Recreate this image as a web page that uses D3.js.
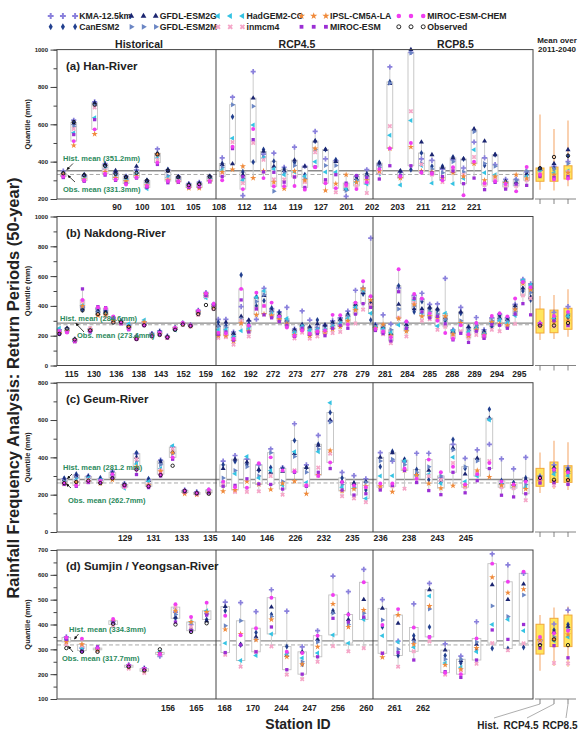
<!DOCTYPE html>
<html>
<head>
<meta charset="utf-8">
<script src="https://cdn.jsdelivr.net/npm/d3@7"></script>
<style>
  body { margin: 0; background: #fff; }
  svg { font-family: "Liberation Sans", Arial, sans-serif; }
</style>
</head>
<body>
<svg id="chart" width="580" height="735"></svg>
<script>
//
// ***********************************************************************************
//                      DATA
// ***********************************************************************************
//

// model order in every row: KMA, CanESM2, GFDL-ESM2G, GFDL-ESM2M, HadGEM2-CC, inmcm4, IPSL, MIROC-ESM, MIROC-ESM-CHEM
const modelNames = ["KMA-12.5km", "CanESM2", "GFDL-ESM2G", "GFDL-ESM2M", "HadGEM2-CC",
                    "inmcm4", "IPSL-CM5A-LA", "MIROC-ESM", "MIROC-ESM-CHEM"];
const periodNames = ["Historical", "RCP4.5", "RCP8.5"];
const meanNames = ["Hist.", "RCP4.5", "RCP8.5"];

// (a) Han-River
const hanTicks = ["90", "100", "101", "105", "108", "112", "114", "119", "127", "201", "202", "203", "211", "212", "221"];
const hanHistMean = 351.2;
const hanObsMean = 331.3;
const hanHist = [
    [350,338,335,330,325,320,330,315,322], [622,610,605,590,555,575,487,545,510],
    [325,330,328,318,310,300,305,295,300], [720,712,715,700,635,690,548,625,573],
    [390,382,385,370,360,355,345,328,335], [340,332,352,325,318,310,312,300,305],
    [322,318,315,305,300,290,295,283,278], [355,345,375,338,330,320,322,312,316],
    [298,300,295,285,255,268,272,262,270], [468,445,440,430,420,410,438,385,395],
    [355,358,350,325,315,305,300,287,296], [320,318,316,305,300,296,292,290,295],
    [282,276,280,270,265,262,258,262,268], [290,282,285,275,268,262,258,265,272],
    [322,320,318,310,300,298,295,292,296]
];
const hanObs = [338,612,328,705,378,335,318,340,298,440,352,318,274,280,320];
const hanRcp45 = [
    [420,390,385,370,355,340,345,320,300], [745,640,388,705,525,505,358,470,480],
    [218,345,330,310,300,285,375,320,253], [882,398,740,697,596,500,312,518,575],
    [440,465,455,425,420,410,350,345,312], [446,402,375,242,360,305,290,343,268],
    [370,360,352,340,330,305,255,290,268], [478,395,408,380,345,320,350,318,270],
    [375,330,375,310,322,290,300,262,250], [562,510,510,465,400,450,470,372,370],
    [415,465,465,380,345,290,246,303,285], [405,410,400,380,345,236,282,330,258],
    [214,262,255,245,255,270,330,285,275], [322,315,310,300,290,270,290,325,253],
    [357,335,330,320,280,232,300,315,290]
];
const hanRcp85 = [
    [380,395,392,370,335,340,350,307,360], [907,827,818,820,541,590,470,378,470],
    [345,348,350,330,275,320,312,325,320], [985,357,1000,982,621,670,479,378,500],
    [415,446,505,390,380,385,350,345,340], [407,375,437,360,285,330,345,340,335],
    [360,375,370,340,305,291,310,320,300], [410,425,420,400,282,360,340,350,370],
    [366,414,415,345,310,330,321,282,220], [505,570,575,560,464,425,389,312,400],
    [420,380,510,390,340,275,300,250,285], [384,437,437,375,330,310,320,289,295],
    [305,290,295,285,280,265,285,253,280], [305,285,290,300,275,270,330,280,241],
    [345,330,335,350,320,300,310,273,371]
];
// mean panel: [low, q1, q3, high] per period, then model means and observed
const hanMeanBox = [[250,295,366,652], [246,295,371,575], [268,307,378,621]];
const hanMeanPts = [
    [355,362,360,352,345,335,330,320,330],
    [375,365,390,360,340,320,330,315,305],
    [400,430,464,390,350,345,340,320,310]
];
const hanMeanObs = [365, 425, 432];

// (b) Nakdong-River
const nakTicks = ["115", "130", "136", "138", "143", "152", "159", "162", "192", "272", "273", "277", "278", "279",
                  "281", "284", "285", "288", "289", "294", "295"];
const nakHistMean = 284.6;
const nakObsMean = 273.4;
const nakHist = [
    [240,215,220,230,250,225,218,210,232], [250,240,245,238,235,228,232,225,222],
    [178,172,170,168,165,162,168,160,165], [395,375,385,390,405,430,400,514,440],
    [245,235,240,230,228,250,238,226,232], [380,360,370,355,345,340,335,395,390],
    [370,355,365,340,345,330,340,388,385], [320,300,305,310,315,295,300,325,330],
    [300,292,295,285,290,282,288,280,285], [270,260,265,255,280,250,258,240,245],
    [198,190,192,185,190,180,185,175,178], [290,280,285,275,305,278,290,268,270],
    [215,205,210,200,205,198,202,195,200], [232,222,228,218,215,210,212,208,220],
    [198,192,195,190,188,186,188,185,190], [255,245,250,242,238,250,246,245,252],
    [285,280,282,278,275,272,280,283,285], [272,268,270,265,268,262,266,268,270],
    [370,360,365,350,345,340,355,362,368], [490,470,480,460,455,465,478,470,485],
    [410,395,400,385,390,380,395,405,415]
];
const nakObs = [212,248,175,370,236,345,350,288,290,260,178,270,196,205,190,240,275,265,345,406,380];
const nakRcp45 = [
    [310,290,270,262,240,185,200,210,220], [310,268,290,255,240,190,200,225,215],
    [225,205,215,195,190,140,165,170,180], [395,608,330,310,234,300,283,440,514],
    [300,280,305,260,245,195,230,225,268], [310,400,460,430,458,380,340,380,489],
    [518,435,470,475,500,400,345,340,400], [380,385,370,360,345,330,335,320,422],
    [360,355,340,325,320,300,310,295,330], [390,290,305,300,315,265,280,270,255],
    [245,230,240,225,220,182,205,195,200], [366,270,275,265,262,220,240,250,235],
    [305,250,260,240,235,180,200,210,215], [255,305,280,250,240,195,220,215,230],
    [270,265,272,245,240,215,225,200,235], [300,285,290,270,260,218,245,250,340],
    [320,300,310,290,280,225,260,270,338], [365,345,340,330,315,290,300,250,275],
    [505,395,410,380,390,282,370,345,422], [520,480,490,500,505,375,515,415,565],
    [855,305,420,395,350,405,440,390,465]
];
const nakRcp85 = [
    [275,270,265,260,255,240,250,235,245], [340,250,260,270,245,210,275,215,230],
    [278,210,215,240,220,150,200,165,190], [520,535,410,380,272,320,315,495,646],
    [290,270,275,255,245,195,230,250,295], [470,360,380,400,440,420,410,450,480],
    [485,430,380,445,350,300,330,360,450], [410,380,390,360,340,310,330,320,350],
    [413,370,380,345,265,240,320,330,300], [585,300,320,310,350,260,330,280,218],
    [240,225,230,215,235,195,210,172,180], [390,350,360,300,280,230,285,216,270],
    [255,240,260,235,225,185,200,155,210], [322,280,260,270,250,205,240,230,285],
    [240,230,225,215,210,188,205,182,200], [320,260,290,300,280,240,290,275,332],
    [345,335,320,310,300,230,280,270,350], [320,300,310,295,285,260,270,250,330],
    [410,380,400,360,335,280,375,345,450], [578,500,520,565,572,470,550,415,560],
    [548,440,460,490,540,450,510,340,525]
];
const nakMeanBox = [[171,218,379,466], [178,220,372,473], [193,243,384,511]];
const nakMeanPts = [
    [285,270,275,268,272,262,270,280,282],
    [357,300,320,330,315,262,290,300,332],
    [395,320,340,345,330,265,300,270,360]
];
const nakMeanObs = [268, 268, 285];

// (c) Geum-River
const geumTicks = ["129", "131", "133", "135", "140", "146", "226", "232", "235", "236", "238", "243", "245"];
const geumHistMean = 281.2;
const geumObsMean = 262.7;
const geumHist = [
    [285,288,280,270,265,260,258,255,262], [305,310,300,290,280,270,265,245,250],
    [300,298,295,285,290,280,270,265,270], [285,290,282,275,278,270,260,265,275],
    [325,318,312,300,305,292,280,290,310], [260,255,250,245,235,240,248,252,245],
    [420,425,400,380,365,390,350,308,335], [280,285,275,260,270,255,250,238,245],
    [385,380,375,360,340,330,325,300,310], [455,440,430,420,462,445,425,390,400],
    [225,222,220,215,218,212,205,215,222], [215,212,210,208,205,202,200,205,210],
    [225,218,215,212,220,215,210,210,228]
];
const geumObs = [262,268,275,262,288,252,335,245,305,355,220,208,205];
const geumRcp45 = [
    [380,360,340,290,265,255,218,245,270], [410,378,390,330,312,215,225,250,240],
    [390,360,375,350,405,215,270,285,237], [360,330,335,300,290,218,255,258,368],
    [445,345,320,425,330,300,228,255,400], [345,340,325,270,250,200,260,230,330],
    [580,490,420,405,430,330,272,320,325], [360,345,345,320,265,250,205,245,250],
    [518,470,465,445,430,345,305,320,300], [595,640,600,590,693,420,437,340,373],
    [320,290,270,255,240,192,220,225,268], [302,262,260,240,235,180,230,198,250],
    [285,225,270,265,180,160,245,205,240]
];
const geumRcp85 = [
    [425,350,400,380,300,240,245,225,260], [380,432,425,390,302,245,215,250,260],
    [375,390,385,360,380,232,330,330,340], [422,335,310,320,300,290,305,265,285],
    [422,280,330,350,310,300,260,222,388], [290,265,280,300,260,280,235,200,320],
    [470,495,450,440,400,370,248,320,350], [395,340,310,350,270,240,250,210,255],
    [440,390,395,380,300,320,330,275,310], [470,658,610,605,600,380,295,340,370],
    [392,275,265,260,255,240,250,197,270], [338,265,255,245,240,235,250,188,255],
    [400,290,280,255,240,170,230,205,270]
];
const geumMeanBox = [[209,245,341,426], [230,266,375,489], [225,266,355,481]];
const geumMeanPts = [
    [300,292,290,282,278,270,272,262,285],
    [360,330,345,320,310,250,270,265,335],
    [345,335,330,315,300,262,280,255,320]
];
const geumMeanObs = [290, 280, 278];

// (d) Sumjin / Yeongsan-River
const sumTicks = ["156", "165", "168", "170", "244", "247", "256", "260", "261", "262"];
const sumHistMean = 334.3;
const sumObsMean = 317.7;
const sumHist = [
    [350,340,345,335,338,320,330,340,348], [305,300,295,310,305,315,320,292,343],
    [305,300,302,298,300,295,298,310,305], [412,405,408,400,410,395,415,410,422],
    [238,232,235,230,228,222,230,233,236], [225,220,222,215,212,205,215,218,222],
    [272,285,282,288,290,280,285,283,280], [450,425,430,440,465,470,455,410,482],
    [400,380,385,375,410,390,410,375,430], [445,420,415,440,455,445,450,438,488]
];
const sumObs = [305,290,290,403,230,215,300,400,370,405];
const sumRcp45 = [
    [490,455,472,395,325,278,380,287,435], [488,318,320,415,255,230,362,318,357],
    [452,368,350,340,275,290,338,290,385], [540,440,470,432,362,312,420,390,508],
    [454,311,275,285,280,198,270,218,290], [310,240,290,250,265,180,240,200,285],
    [375,335,340,330,285,250,310,270,355], [595,455,450,445,358,313,483,425,519],
    [532,440,420,400,325,292,390,410,440], [622,425,500,445,420,305,458,430,570]
];
const sumRcp85 = [
    [500,390,465,418,355,285,268,284,398], [333,275,405,300,330,230,438,287,462],
    [483,355,340,330,308,292,320,257,388], [566,390,540,462,515,332,474,350,350],
    [322,275,297,260,245,198,237,210,206], [273,245,255,260,228,215,220,187,200],
    [411,300,320,330,290,242,305,257,344], [684,304,560,475,400,325,590,378,645],
    [640,303,500,432,420,296,528,340,572], [606,308,563,519,375,324,542,400,613]
];
const sumMeanBox = [[214,281,401,438], [233,311,425,468], [230,311,438,472]];
const sumMeanPts = [
    [335,330,325,335,340,330,338,305,350],
    [402,378,370,350,335,245,340,315,365],
    [458,400,392,380,350,243,360,266,375]
];
const sumMeanObs = [317, 340, 317];

//
// ***********************************************************************************
//                      LAYOUT AND STYLE
// ***********************************************************************************
//

const svg = d3.select("#chart");
const frameX = [57, 216, 373, 533];     // left edge, two period dividers, right edge
const meanRange = [533, 575];

const modelStyle = [
    { sym: d3.symbolCross,    size: 24, rot: 0,   fill: "#8a80dc" },
    { sym: d3.symbolDiamond,  size: 18, rot: 0,   fill: "#22408f" },
    { sym: d3.symbolTriangle, size: 18, rot: 0,   fill: "#1b2570" },
    { sym: d3.symbolTriangle, size: 18, rot: 90,  fill: "#6b86c4" },
    { sym: d3.symbolTriangle, size: 18, rot: -90, fill: "#35c3e3" },
    { sym: d3.symbolCross,    size: 22, rot: 45,  fill: "#f5a6c8" },
    { sym: d3.symbolStar,     size: 20, rot: 0,   fill: "#f08a3a" },
    { sym: d3.symbolSquare,   size: 18, rot: 0,   fill: "#9b2fd4" },
    { sym: d3.symbolCircle,   size: 20, rot: 0,   fill: "#f03df0" }
];
const POINT_SCALE = 0.6;

const panels = [
    { title: "(a) Han-River", top: 49.6, bottom: 199, domain: [200, 1000], major: 200, minor: 100,
      pad: 0.6, labelPad: 2.33, labelGap: 4.5, ticks: hanTicks,
      rows: [hanHist, hanRcp45, hanRcp85], obs: hanObs, histMean: hanHistMean, obsMean: hanObsMean,
      meanBox: hanMeanBox, meanPts: hanMeanPts, meanObs: hanMeanObs, unit: "mm",
      ann: { hx: 63, hy: 161, ha: [73, 163.5, 67, 169.5], ox: 63, oy: 192, oa: [75, 182, 68, 175.5] } },
    { title: "(b) Nakdong-River", top: 216.5, bottom: 365.5, domain: [0, 1000], major: 200, minor: 100,
      pad: 0.3, labelPad: 0.63, labelGap: 5, ticks: nakTicks,
      rows: [nakHist, nakRcp45, nakRcp85], obs: nakObs, histMean: nakHistMean, obsMean: nakObsMean,
      meanBox: nakMeanBox, meanPts: nakMeanPts, meanObs: nakMeanObs, unit: "mm",
      ann: { hx: 60, hy: 320.5, ha: null, ox: 77, oy: 337.5, oa: [84, 332, 76, 323.5] } },
    { title: "(c) Geum-River", top: 382.7, bottom: 532, domain: [0, 800], major: 200, minor: 100,
      pad: 0.6, labelPad: 2.38, labelGap: 3, ticks: geumTicks,
      rows: [geumHist, geumRcp45, geumRcp85], obs: geumObs, histMean: geumHistMean, obsMean: geumObsMean,
      meanBox: geumMeanBox, meanPts: geumMeanPts, meanObs: geumMeanObs, unit: " mm",
      ann: { hx: 63, hy: 469.5, ha: [72, 474, 67.5, 478.5], ox: 68, oy: 503, oa: [71, 488, 66.5, 484] } },
    { title: "(d) Sumjin / Yeongsan-River", top: 550, bottom: 699, domain: [100, 700], major: 100, minor: 50,
      pad: 0.6, labelPad: 3.9, labelGap: 6, ticks: sumTicks,
      rows: [sumHist, sumRcp45, sumRcp85], obs: sumObs, histMean: sumHistMean, obsMean: sumObsMean,
      meanBox: sumMeanBox, meanPts: sumMeanPts, meanObs: sumMeanObs, unit: "mm",
      ann: { hx: 69, hy: 632, ha: [78.5, 634, 74.5, 639], ox: 62, oy: 661, oa: [73, 652, 68.5, 646.5] } }
];

// arrow head for the mean annotations
svg.append("defs").append("marker")
    .attr("id", "arrow").attr("viewBox", "0 0 6 6").attr("refX", 5).attr("refY", 3)
    .attr("markerWidth", 4).attr("markerHeight", 4).attr("orient", "auto")
    .append("path").attr("d", "M0,0L6,3L0,6Z").attr("fill", "#111");

//
// ***********************************************************************************
//                      HELPER FUNCTIONS
// ***********************************************************************************
//

function drawMarker(g, i, x, y, scale = POINT_SCALE) {
    const s = modelStyle[i];
    g.append("path")
        .attr("d", d3.symbol(s.sym, s.size * scale)())
        .attr("transform", `translate(${x},${y}) rotate(${s.rot})`)
        .attr("fill", s.fill);
}

function drawObs(g, x, y, r = 1.7) {
    g.append("circle")
        .attr("cx", x).attr("cy", y).attr("r", r)
        .attr("fill", "none").attr("stroke", "#111").attr("stroke-width", 0.9);
}

function drawColumn(g, vals, obs, cx, y, bw) {
    const s = vals.slice().sort(d3.ascending);
    const q1 = d3.quantile(s, 0.125), q3 = d3.quantile(s, 0.875);

    g.append("line")
        .attr("x1", cx).attr("x2", cx)
        .attr("y1", y(d3.max(s))).attr("y2", y(d3.min(s)))
        .attr("stroke", "#c6c6c6").attr("stroke-width", 0.9);
    g.append("rect")
        .attr("x", cx - bw / 2).attr("width", bw)
        .attr("y", y(q3)).attr("height", y(q1) - y(q3))
        .attr("fill", "#fff").attr("stroke", "#c2c2c2").attr("stroke-width", 0.9);

    vals.forEach((v, i) => drawMarker(g, i, cx, y(v)));
    if (obs != null) drawObs(g, cx, y(obs));
}

function drawMeanColumn(g, box, pts, obs, cx, y) {
    g.append("line")
        .attr("x1", cx).attr("x2", cx)
        .attr("y1", y(box[3])).attr("y2", y(box[0]))
        .attr("stroke", "#f6b27c").attr("stroke-width", 1.2);
    g.append("rect")
        .attr("x", cx - 4).attr("width", 8)
        .attr("y", y(box[2])).attr("height", y(box[1]) - y(box[2]))
        .attr("fill", "#ffe55e").attr("stroke", "#f2a83a").attr("stroke-width", 1);
    pts.forEach((v, i) => drawMarker(g, i, cx, y(v)));
    drawObs(g, cx, y(obs));
}

//
// ***********************************************************************************
//                      PANELS
// ***********************************************************************************
//

panels.forEach(p => {

    const g = svg.append("g");
    const y = d3.scaleLinear().domain(p.domain).range([p.bottom, p.top]);

    // Y axis: major and minor ticks.
    g.append("g")
        .attr("transform", `translate(${frameX[0]},0)`)
        .call(d3.axisLeft(y).tickValues(d3.range(p.domain[0], p.domain[1] + 1, p.minor))
            .tickSize(3.5).tickFormat(""))
        .call(a => a.select(".domain").remove())
        .call(a => a.selectAll("line").attr("stroke", "#444"));
    g.append("g")
        .attr("transform", `translate(${frameX[0]},0)`)
        .call(d3.axisLeft(y).tickValues(d3.range(p.domain[0], p.domain[1] + 1, p.major))
            .tickSize(6.5).tickPadding(2.5).tickFormat(d3.format("d")))
        .call(a => a.select(".domain").remove())
        .call(a => a.selectAll("line").attr("stroke", "#444"))
        .call(a => a.selectAll("text").attr("font-size", 6).attr("font-weight", "bold")
            .attr("font-family", "Liberation Sans, Arial, sans-serif").attr("fill", "#222"));

    g.append("text")
        .attr("transform", `translate(27,${(p.top + p.bottom) / 2}) rotate(-90)`)
        .attr("text-anchor", "middle").attr("dy", "0.35em")
        .attr("font-size", 7.5).attr("font-weight", "bold").attr("fill", "#222")
        .text("Quantile (mm)");

    // Station labels.
    const lx = d3.scalePoint().domain(p.ticks).range([frameX[0], frameX[3]]).padding(p.labelPad);
    g.append("g")
        .attr("transform", `translate(0,${p.bottom})`)
        .call(d3.axisBottom(lx).tickSize(0).tickPadding(p.labelGap))
        .call(a => a.select(".domain").remove())
        .call(a => a.selectAll("text").attr("font-size", 8.5).attr("font-weight", "bold")
            .attr("font-family", "Liberation Sans, Arial, sans-serif").attr("fill", "#222"));

    // Mean lines.
    g.append("line")
        .attr("x1", frameX[0]).attr("x2", frameX[3])
        .attr("y1", y(p.histMean)).attr("y2", y(p.histMean))
        .attr("stroke", "#8a8a8a").attr("stroke-width", 1.3);
    g.append("line")
        .attr("x1", frameX[0]).attr("x2", frameX[3])
        .attr("y1", y(p.obsMean)).attr("y2", y(p.obsMean))
        .attr("stroke", "#a8a8a8").attr("stroke-width", 1).attr("stroke-dasharray", "4,2.5");

    // Station columns for each period.
    p.rows.forEach((rows, k) => {
        const x = d3.scalePoint().domain(d3.range(rows.length))
            .range([frameX[k], frameX[k + 1]]).padding(p.pad);
        const bw = Math.max(4.5, x.step() * 0.55);
        rows.forEach((vals, j) => drawColumn(g, vals, k === 0 ? p.obs[j] : null, x(j), y, bw));
    });

    // Frame and period dividers.
    g.append("rect")
        .attr("x", frameX[0]).attr("y", p.top)
        .attr("width", frameX[3] - frameX[0]).attr("height", p.bottom - p.top)
        .attr("fill", "none").attr("stroke", "#444").attr("stroke-width", 1);
    [frameX[1], frameX[2]].forEach(fx => g.append("line")
        .attr("x1", fx).attr("x2", fx).attr("y1", p.top).attr("y2", p.bottom)
        .attr("stroke", "#444").attr("stroke-width", 1));

    // Panel title.
    g.append("text")
        .attr("x", 66).attr("y", p.top + 20)
        .attr("font-size", 11.5).attr("font-weight", "bold").attr("fill", "#222")
        .text(p.title);

    // Mean annotations.
    g.append("text").attr("x", p.ann.hx).attr("y", p.ann.hy)
        .attr("font-size", 7.5).attr("font-weight", "bold").attr("fill", "#2b8a5c")
        .text(`Hist. mean (${p.histMean}${p.unit})`);
    g.append("text").attr("x", p.ann.ox).attr("y", p.ann.oy)
        .attr("font-size", 7.5).attr("font-weight", "bold").attr("fill", "#2b8a5c")
        .text(`Obs. mean (${p.obsMean}mm)`);
    [p.ann.ha, p.ann.oa].filter(a => a).forEach(a => g.append("line")
        .attr("x1", a[0]).attr("y1", a[1]).attr("x2", a[2]).attr("y2", a[3])
        .attr("stroke", "#111").attr("stroke-width", 0.8).attr("marker-end", "url(#arrow)"));

    // Mean over 2011-2040 panel.
    const mx = d3.scalePoint().domain(meanNames).range(meanRange).padding(0.5);
    g.append("line")
        .attr("x1", meanRange[0] + 2).attr("x2", meanRange[1] + 1)
        .attr("y1", p.bottom).attr("y2", p.bottom)
        .attr("stroke", "#666").attr("stroke-width", 0.8);
    meanNames.forEach((n, k) => {
        g.append("line")
            .attr("x1", mx(n)).attr("x2", mx(n)).attr("y1", p.bottom).attr("y2", p.bottom + 5)
            .attr("stroke", "#666").attr("stroke-width", 0.8);
        drawMeanColumn(g, p.meanBox[k], p.meanPts[k], p.meanObs[k], mx(n), y);
    });
});

//
// ***********************************************************************************
//                      HEADERS, LEGEND AND AXIS TITLES
// ***********************************************************************************
//

periodNames.forEach((n, k) => svg.append("text")
    .attr("x", (frameX[k] + frameX[k + 1]) / 2 + 2.5).attr("y", 47.5)
    .attr("text-anchor", "middle").attr("font-size", 10.5).attr("font-weight", "bold").attr("fill", "#222")
    .text(n));

svg.append("text").attr("x", 557).attr("y", 42.5).attr("text-anchor", "middle")
    .attr("font-size", 8).attr("font-weight", "bold").attr("fill", "#222").text("Mean over");
svg.append("text").attr("x", 557).attr("y", 51.5).attr("text-anchor", "middle")
    .attr("font-size", 8).attr("font-weight", "bold").attr("fill", "#222").text("2011-2040");

// Legend: two rows, every entry shows three markers.
const legendX = [50.7, 131.3, 218, 301.5, 398.8];
const legendRows = [[0, 2, 4, 6, 8], [1, 3, 5, 7, "obs"]];
legendRows.forEach((row, r) => {
    const ly = 16 + r * 10.8;
    row.forEach((m, c) => {
        const lg = svg.append("g");
        [0, 12.2, 24.4].forEach(dx => {
            if (m === "obs") drawObs(lg, legendX[c] + dx, ly, 2);
            else drawMarker(lg, m, legendX[c] + dx, ly, 0.8);
        });
        lg.append("text")
            .attr("x", legendX[c] + 28.5).attr("y", ly).attr("dy", "0.35em")
            .attr("font-size", 8.7).attr("font-weight", "bold").attr("fill", "#222")
            .text(m === "obs" ? "Observed" : modelNames[m]);
    });
});

svg.append("text")
    .attr("transform", "translate(13,388) rotate(-90)")
    .attr("text-anchor", "middle").attr("dy", "0.35em")
    .attr("font-size", 16.5).attr("font-weight", "bold").attr("fill", "#222")
    .text("Rainfall Frequency Analysis: Return Periods (50-year)");

svg.append("text")
    .attr("x", 298).attr("y", 729).attr("text-anchor", "middle")
    .attr("font-size", 14).attr("font-weight", "bold").attr("fill", "#222")
    .text("Station ID");

// Labels under the mean panel with leader lines.
const mxb = d3.scalePoint().domain(meanNames).range(meanRange).padding(0.5);
const meanLabelX = [488, 521, 560];
const lastBottom = panels[panels.length - 1].bottom;
meanNames.forEach((n, k) => {
    svg.append("line")
        .attr("x1", mxb(n)).attr("y1", lastBottom + 5)
        .attr("x2", meanLabelX[k] + 6).attr("y2", 718)
        .attr("stroke", "#777").attr("stroke-width", 0.6);
    svg.append("text")
        .attr("x", meanLabelX[k]).attr("y", 728.5).attr("text-anchor", "middle")
        .attr("font-size", 10).attr("font-weight", "bold").attr("fill", "#222")
        .text(n);
});
</script>
</body>
</html>
